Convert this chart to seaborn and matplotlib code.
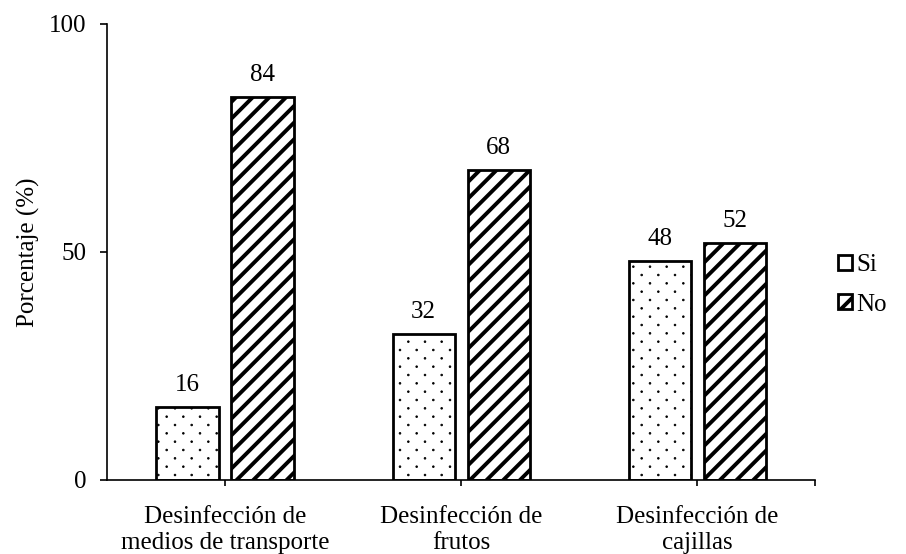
import matplotlib
matplotlib.use("Agg")
import matplotlib.pyplot as plt
import seaborn as sns
import pandas as pd
import numpy as np
from matplotlib import hatch as mhatch
from matplotlib.path import Path
from matplotlib.patches import Patch

categories = ["Desinfección de\nmedios de transporte", "Desinfección de\nfrutos", "Desinfección de\ncajillas"]
si_values = [16, 32, 48]
no_values = [84, 68, 52]
series = ["Si", "No"]
yticks = [0, 50, 100]


# Staggered dot hatch (rows twice as dense as columns), like the reference
class StaggeredDots(mhatch.Shapes):
    filled = True
    size = 0.1

    def __init__(self, hatch, density):
        self.num_rows = hatch.count('.') * density
        path = Path.unit_circle()
        self.shape_vertices = path.vertices
        self.shape_codes = path.codes
        n = self.num_rows
        self.num_shapes = 0 if n == 0 else (n + 1) * (n + 1) + n * n
        self.num_vertices = self.num_shapes * len(self.shape_vertices)

    def set_vertices_and_codes(self, vertices, codes):
        n = self.num_rows
        rstep = 1.0 / (2 * n)
        cstep = 1.0 / n
        sv = self.shape_vertices * rstep * self.size
        vparts, cparts = [], []
        for row in range(2 * n + 1):
            if row % 2 == 0:
                cols = np.linspace(0, 1, n + 1)
            else:
                cols = np.linspace(cstep / 2, 1 - cstep / 2, n)
            for c in cols:
                vparts.append(sv + [c, row * rstep])
                cparts.append(self.shape_codes)
        np.concatenate(vparts, out=vertices)
        np.concatenate(cparts, out=codes)


try:
    mhatch._hatch_types = [StaggeredDots if t is mhatch.SmallFilledCircles else t
                           for t in mhatch._hatch_types]
    dot_hatch = "."
except Exception:
    dot_hatch = ".."

sns.set_style("white")
plt.rcParams["font.family"] = ["Liberation Serif", "DejaVu Serif"]
plt.rcParams["hatch.linewidth"] = 2.8
plt.rcParams["hatch.color"] = "black"
for k in ["text.color", "axes.labelcolor", "xtick.color", "ytick.color", "axes.edgecolor"]:
    plt.rcParams[k] = "black"

df = pd.DataFrame({
    "cat": categories * 2,
    "val": si_values + no_values,
    "resp": ["Si"] * 3 + ["No"] * 3,
})

fig = plt.figure(figsize=(9.06, 5.54), dpi=100)
ax = fig.add_axes([0.118, 0.1336, 0.782, 0.8231])

sns.barplot(data=df, x="cat", y="val", hue="resp", hue_order=series,
            order=categories, palette=["white", "white"], edgecolor="black",
            linewidth=2.0, width=0.635, gap=0.17, ax=ax, legend=False)

hatches = [dot_hatch, "//"]
for cont, h in zip(ax.containers, hatches):
    for bar in cont:
        bar.set_hatch(h)
        if h == dot_hatch:
            try:
                bar.set_hatch_linewidth(0.6)
            except Exception:
                pass
    ax.bar_label(cont, fmt="%d", padding=8, fontsize=18)

ax.set_ylim(0, 100)
ax.set_xlim(-0.5, 2.5)
ax.set_yticks(yticks)
ax.set_xlabel("")
ax.set_ylabel("Porcentaje (%)", fontsize=18, labelpad=6)
ax.tick_params(axis="y", labelsize=18, direction="out", length=5, width=1.2, left=True, pad=10)
ax.tick_params(axis="x", labelsize=18, direction="out", length=4, width=1.2, bottom=True, pad=15)
ax.set_xticks([2.5], minor=True)
ax.tick_params(axis="x", which="minor", direction="out", length=4, width=1.2, bottom=True)
for s in ["top", "right"]:
    ax.spines[s].set_visible(False)
for s in ["left", "bottom"]:
    ax.spines[s].set_linewidth(1.2)

handles = [Patch(facecolor="white", edgecolor="black", linewidth=2, hatch=""),
           Patch(facecolor="white", edgecolor="black", linewidth=2, hatch="//")]
fig.legend(handles, series, loc="center left", bbox_to_anchor=(0.911, 0.486),
           frameon=False, fontsize=18, handlelength=0.55, handleheight=0.55,
           handletextpad=0.2, labelspacing=0.7, borderpad=0)

fig.savefig("out.png", dpi=100)
